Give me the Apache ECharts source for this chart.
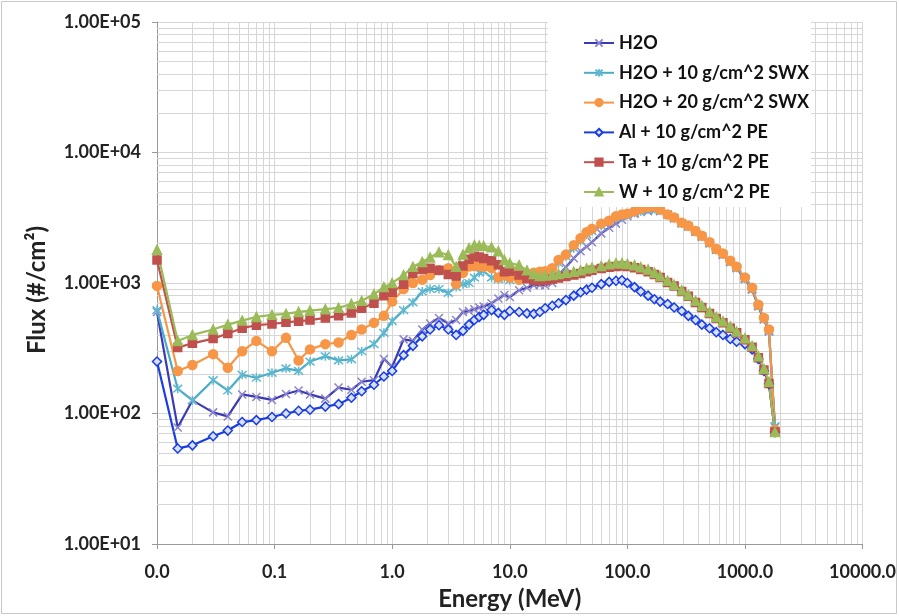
<!DOCTYPE html>
<html>
<head>
<meta charset="utf-8">
<script src="https://cdn.jsdelivr.net/npm/echarts@6/dist/echarts.min.js"></script>
<style>
html, body { margin: 0; padding: 0; background: #fff; }
#chart { width: 899px; height: 616px; }
</style>
</head>
<body>
<div id="chart"></div>
<script>
var chartDom = document.getElementById('chart');
var myChart = echarts.init(chartDom);

// energy grid (MeV)
var energy = [0.01, 0.015, 0.02, 0.03, 0.04, 0.053, 0.07, 0.095, 0.125, 0.16,
    0.2, 0.27, 0.35, 0.45, 0.55, 0.7, 0.85, 1.0, 1.25, 1.5,
    1.8, 2.1, 2.5, 3.0, 3.5, 4.0, 4.5, 5.0, 5.5, 6.0,
    7.0, 8.0, 9.0, 10, 12, 14, 16, 18, 20, 23,
    26, 30, 35, 40, 45, 50, 60, 70, 80, 90,
    100, 115, 130, 150, 170, 190, 220, 250, 290, 330,
    380, 430, 500, 570, 650, 750, 850, 1000, 1150, 1300,
    1450, 1600, 1800];

// flux (#/cm^2)
var h2o = [600, 78, 126, 102, 95, 140, 134, 127, 141, 150,
    140, 130, 158, 152, 175, 180, 262, 228, 370, 360,
    440, 490, 540, 490, 520, 600, 610, 630, 650, 660,
    700, 760, 810, 780, 880, 920, 960, 965, 960, 1000,
    1150, 1320, 1550, 1750, 1900, 2050, 2400, 2650, 2850, 3050,
    3250, 3400, 3500, 3550, 3600, 3550, 3350, 3120, 2860, 2700,
    2460, 2260, 2010, 1790, 1640, 1440, 1300, 1070, 890, 660,
    525, 425, 78];
var h2oSwx10 = [620, 155, 126, 180, 150, 198, 188, 205, 222, 212,
    250, 275, 255, 260, 300, 340, 415, 510, 620, 710,
    860, 900, 900, 840, 930, 980, 1000, 1100, 1200, 1230,
    1100, 1070, 1090, 1050, 1120, 1150, 1180, 1200, 1220, 1280,
    1420, 1600, 1850, 2100, 2350, 2500, 2750, 2950, 3150, 3250,
    3350, 3450, 3550, 3650, 3700, 3600, 3350, 3150, 2880, 2720,
    2480, 2280, 2030, 1800, 1660, 1460, 1310, 1080, 900, 670,
    530, 430, 80];
var h2oSwx20 = [950, 212, 235, 285, 224, 300, 360, 300, 380, 255,
    310, 340, 350, 400, 440, 495, 560, 720, 900, 1000,
    1060, 1150, 1250, 1300, 980, 1200, 1340, 1350, 1350, 1330,
    1300, 1100, 1150, 1100, 1060, 1150, 1200, 1220, 1230, 1300,
    1500, 1650, 1950, 2200, 2450, 2600, 2850, 3000, 3250, 3350,
    3400, 3550, 3700, 3800, 3850, 3650, 3350, 3180, 2900, 2750,
    2500, 2300, 2050, 1820, 1680, 1480, 1330, 1100, 920, 680,
    540, 440, 75];
var alPe = [250, 54, 57, 67, 74, 86, 89, 94, 100, 105,
    107, 113, 118, 132, 148, 166, 192, 212, 280, 330,
    390, 440, 475, 440, 400, 430, 480, 520, 550, 570,
    620, 590, 570, 610, 600, 585, 580, 600, 640, 670,
    700, 740, 800, 850, 890, 920, 980, 1020, 1040, 1050,
    1000, 930, 860, 800, 750, 720, 690, 650, 610, 560,
    520, 480, 450, 420, 400, 372, 355, 340, 310, 262,
    212, 168, 72];
var taPe = [1500, 320, 345, 375, 410, 450, 475, 485, 500, 510,
    520, 540, 560, 590, 640, 700, 800, 850, 980, 1180,
    1270, 1300, 1250, 1160, 1130, 1350, 1520, 1600, 1580, 1540,
    1480, 1380, 1220, 1230, 1150, 1080, 1050, 1040, 1050, 1070,
    1090, 1120, 1150, 1180, 1220, 1250, 1290, 1320, 1340, 1350,
    1340, 1310, 1270, 1220, 1160, 1100, 1010, 950, 860, 790,
    710, 650, 585, 535, 495, 450, 415, 368, 322, 268,
    215, 170, 72];
var wPe = [1800, 360, 400, 440, 480, 515, 550, 570, 580, 600,
    615, 630, 645, 690, 730, 820, 930, 1000, 1150, 1330,
    1450, 1570, 1720, 1640, 1330, 1650, 1850, 1950, 1930, 1920,
    1880, 1750, 1500, 1420, 1370, 1250, 1170, 1130, 1140, 1150,
    1170, 1200, 1220, 1250, 1290, 1310, 1350, 1390, 1420, 1420,
    1400, 1370, 1320, 1270, 1200, 1130, 1040, 970, 880, 810,
    730, 670, 600, 550, 510, 465, 425, 378, 330, 275,
    220, 175, 72];

var seriesNames = ['H2O', 'H2O + 10 g/cm^2 SWX', 'H2O + 20 g/cm^2 SWX',
    'Al + 10 g/cm^2 PE', 'Ta + 10 g/cm^2 PE', 'W + 10 g/cm^2 PE'];

// minor grid at 2..9 x 10^k
var xMinor = [];
for (var k = -2; k < 4; k++) {
    for (var m = 2; m <= 9; m++) xMinor.push(Number((m * Math.pow(10, k)).toPrecision(3)));
}
var yMinor = [];
for (var k2 = 1; k2 < 5; k2++) {
    for (var m2 = 2; m2 <= 9; m2++) yMinor.push(m2 * Math.pow(10, k2));
}

function pairs(arr) {
    return energy.map(function (e, i) { return [e, arr[i]]; });
}

var font = 'Lato, "Open Sans", sans-serif';
var gridColor = '#d6d6d6';

function lineSeries(name, data, lineColor, markColor, symbol, size, border) {
    return {
        name: name,
        type: 'line',
        data: pairs(data),
        symbol: symbol,
        symbolSize: size,
        showAllSymbol: true,
        z: 3,
        lineStyle: { color: lineColor, width: 2.2 },
        itemStyle: { color: markColor, borderColor: border || markColor, borderWidth: 1.5 },
        emphasis: { disabled: true }
    };
}

var crossPath = 'path://M0,0L10,10M10,0L0,10';
var starPath = 'path://M0,0L10,10M10,0L0,10M5,-1L5,11';

var option = {
    animation: false,
    backgroundColor: '#fff',
    graphic: [{
        type: 'rect',
        shape: { x: 1.5, y: 1.5, width: 895, height: 612 },
        style: { fill: 'none', stroke: '#c8c8c8', lineWidth: 1 },
        silent: true
    }],
    grid: { left: 157, right: 31, top: 22, bottom: 71 },
    legend: {
        orient: 'vertical',
        left: 548,
        top: 22,
        data: seriesNames,
        backgroundColor: '#fff',
        padding: [12, 2, 6, 35],
        itemWidth: 30,
        itemHeight: 9,
        itemGap: 11.8,
        textStyle: { fontFamily: font, fontWeight: 'bold', fontSize: 18, color: '#111' }
    },
    xAxis: {
        type: 'log',
        logBase: 10,
        min: 0.01,
        max: 10000,
        name: 'Energy (MeV)',
        nameLocation: 'middle',
        nameGap: 43,
        nameTextStyle: { fontFamily: font, fontWeight: 'bold', fontSize: 24, color: '#222' },
        axisLine: { lineStyle: { color: '#9a9a9a', width: 1 } },
        axisTick: { show: true, length: 5, lineStyle: { color: '#9a9a9a' } },
        axisLabel: {
            margin: 19,
            fontFamily: font, fontWeight: 'bold', fontSize: 18, color: '#222',
            formatter: function (v) { return Number(v).toFixed(1); }
        },
        splitLine: { show: true, lineStyle: { color: gridColor, width: 1 } }
    },
    yAxis: {
        type: 'log',
        logBase: 10,
        min: 10,
        max: 100000,
        name: 'Flux (#/cm\u00b2)',
        nameLocation: 'middle',
        nameGap: 108,
        nameTextStyle: { fontFamily: font, fontWeight: 'bold', fontSize: 24, color: '#222', padding: [0, 14, 0, 0] },
        axisLine: { show: true, lineStyle: { color: '#9a9a9a', width: 1 } },
        axisTick: { show: true, length: 5, lineStyle: { color: '#9a9a9a' } },
        axisLabel: {
            margin: 16,
            fontFamily: font, fontWeight: 'bold', fontSize: 18, color: '#222',
            formatter: function (v) {
                var e = Math.round(Math.log10(v));
                return '1.00E+' + (e < 10 ? '0' : '') + e;
            }
        },
        splitLine: { show: true, lineStyle: { color: gridColor, width: 1 } }
    },
    series: [
        {
            name: 'minor grid',
            type: 'line',
            data: [],
            silent: true,
            markLine: {
                silent: true,
                z: 1,
                animation: false,
                symbol: 'none',
                label: { show: false },
                emphasis: { disabled: true },
                lineStyle: { color: gridColor, type: 'solid', width: 1 },
                data: xMinor.map(function (v) { return { xAxis: v }; })
                    .concat(yMinor.map(function (v) { return { yAxis: v }; }))
            }
        },
        lineSeries(seriesNames[0], h2o, '#3a3ab4', '#8c84cc', crossPath, 8),
        lineSeries(seriesNames[1], h2oSwx10, '#4bacc6', '#5fb8cf', starPath, 9),
        lineSeries(seriesNames[2], h2oSwx20, '#f79646', '#f79646', 'circle', 9),
        lineSeries(seriesNames[3], alPe, '#1a3ee0', '#d8e0ff', 'diamond', 9, '#1a3ee0'),
        lineSeries(seriesNames[4], taPe, '#c0504d', '#c0504d', 'rect', 8),
        lineSeries(seriesNames[5], wPe, '#9bbb59', '#9bbb59', 'triangle', 9)
    ]
};

myChart.setOption(option);
</script>
</body>
</html>
